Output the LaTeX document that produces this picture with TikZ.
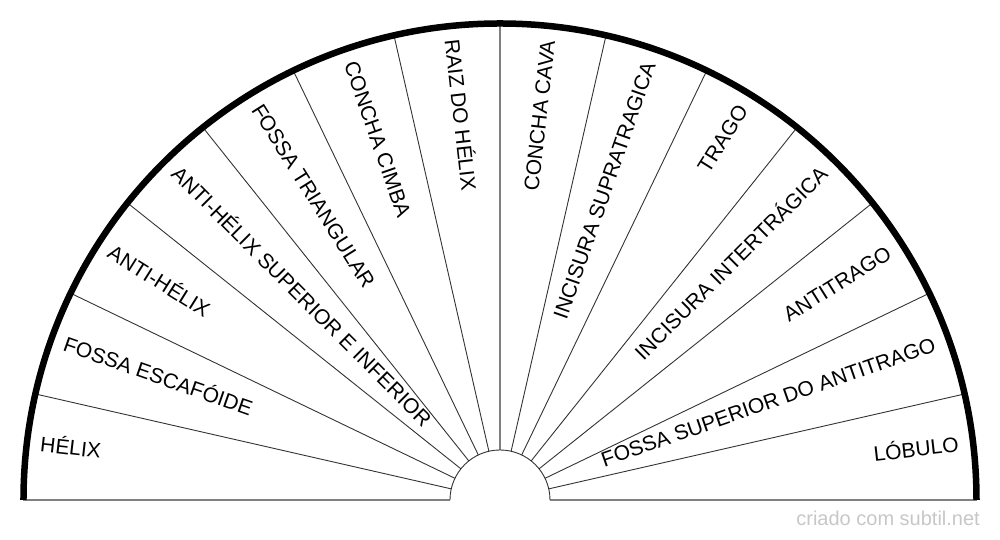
\documentclass[tikz,border=0pt]{standalone}
\usepackage{fontspec}
\setmainfont{Liberation Sans}
\begin{document}
\begin{tikzpicture}[x=1bp,y=1bp,
  sector/.style={draw=black!80,line width=0.9bp},
  axisline/.style={draw=black!50,line width=1.6bp},
  rim/.style={draw=black,line width=6.5bp},
  lbl/.style={font=\fontsize{21bp}{25bp}\selectfont,inner sep=0pt,text height=0.716em,text depth=0pt},
  wmark/.style={font=\fontsize{20bp}{24bp}\selectfont,text=black!22,inner sep=0pt}]
\useasboundingbox (-500,-40) rectangle (500,500);
% sector boundaries
\foreach \k in {1,...,6,8,9,...,13}{
  \draw[sector] ({\k*180/14}:50) -- ({\k*180/14}:476.5);
}
\draw[axisline] (90:50) -- (90:476.5);
\draw[axisline] (-476.5,0) -- (-50,0);
\draw[axisline] (50,0) -- (476.5,0);
\draw[sector] (180:50) arc[start angle=180,end angle=0,radius=50];
\draw[rim] (180:476.5) arc[start angle=180,end angle=0,radius=476.5];
% labels, left half
\foreach \t [count=\i from 0] in {HÉLIX,FOSSA ESCAFÓIDE,ANTI-HÉLIX,ANTI-HÉLIX SUPERIOR E INFERIOR,FOSSA TRIANGULAR,CONCHA CIMBA,RAIZ DO HÉLIX}{
  \pgfmathsetmacro\ang{180-(\i+0.5)*180/14}
  \node[lbl,anchor=west,rotate=\ang-180] (l\i) at (\ang:463) {\t};
}
% labels, right half
\foreach \t [count=\i from 7] in {CONCHA CAVA,INCISURA SUPRATRAGICA,TRAGO,INCISURA INTERTRÁGICA,ANTITRAGO,FOSSA SUPERIOR DO ANTITRAGO,LÓBULO}{
  \pgfmathsetmacro\ang{180-(\i+0.5)*180/14}
  \node[lbl,anchor=east,rotate=\ang] (l\i) at (\ang:462) {\t};
}
\node[wmark,anchor=base east] (wm) at (480,-26) {criado com subtil.net};
\end{tikzpicture}
\end{document}
